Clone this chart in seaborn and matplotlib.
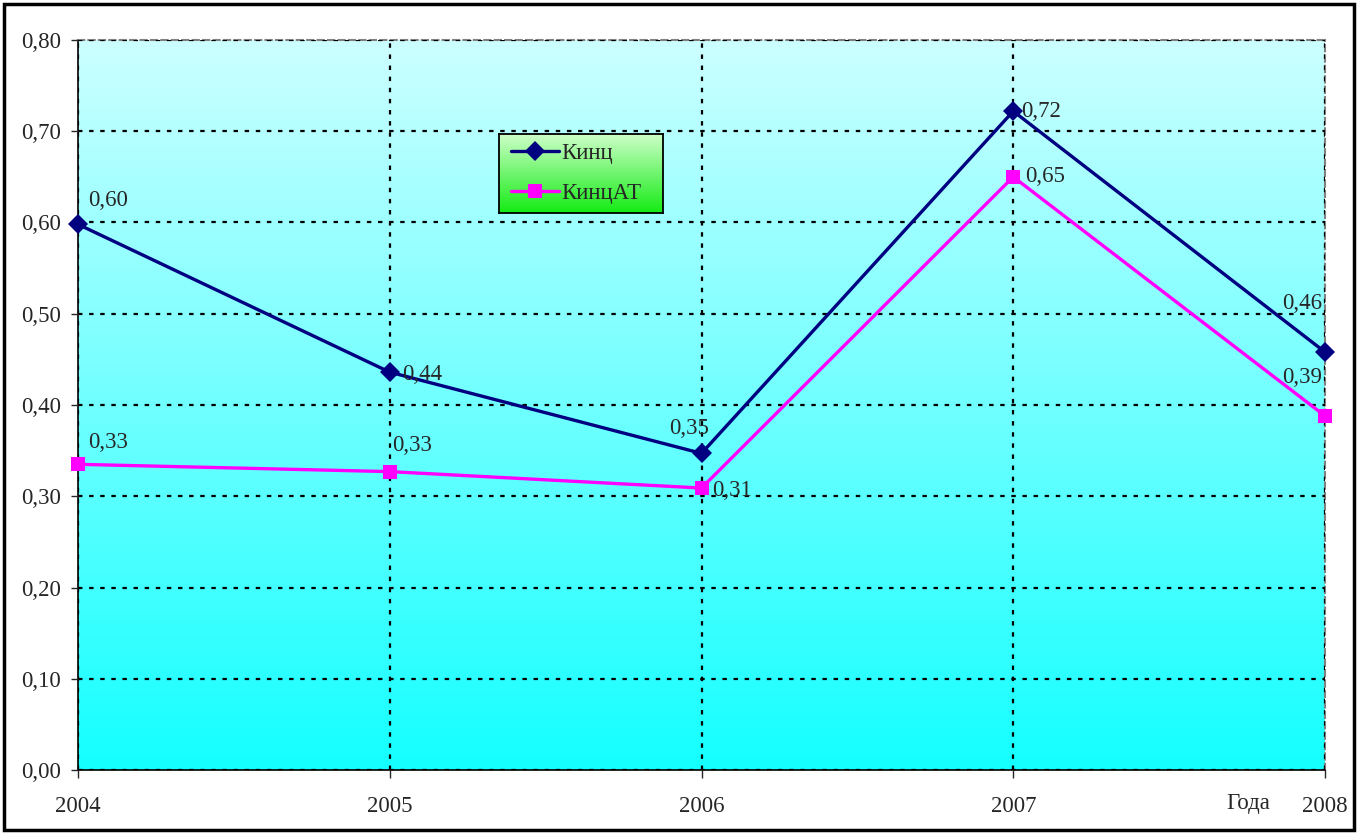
import numpy as np
import pandas as pd
import seaborn as sns
import matplotlib
import matplotlib.pyplot as plt
from matplotlib.ticker import FuncFormatter

years = [2004, 2005, 2006, 2007, 2008]
kinc = [0.598, 0.436, 0.347, 0.722, 0.458]
kinc_at = [0.335, 0.327, 0.309, 0.650, 0.388]
kinc_labels = ['0,60', '0,44', '0,35', '0,72', '0,46']
kinc_at_labels = ['0,33', '0,33', '0,31', '0,65', '0,39']
series_names = ['Кинц', 'КинцАТ']

df = pd.DataFrame({'year': years * 2,
                   'value': kinc + kinc_at,
                   'series': [series_names[0]] * 5 + [series_names[1]] * 5})

sns.set_style('white')
plt.rcParams['font.family'] = ['Liberation Serif', 'DejaVu Serif']
FS = 16.5

W, H = 1364, 834
fig = plt.figure(figsize=(W / 100, H / 100), dpi=100)
ax = fig.add_axes([78 / W, 1 - 770 / H, (1325 - 78) / W, (770 - 40) / H])

# background gradient of plot area
grad = np.linspace(0, 1, 256).reshape(-1, 1)
top = np.array([204, 255, 255]) / 255
bot = np.array([20, 255, 255]) / 255
img = top * (1 - grad[..., None]) + bot * grad[..., None]
ax.imshow(img, extent=[2004, 2008, 0, 0.8], aspect='auto', zorder=0)

sns.lineplot(data=df, x='year', y='value', hue='series', style='series',
             palette=['#000080', '#FF00FF'], markers=['D', 's'], dashes=False,
             linewidth=2.4, markersize=10.5, markeredgewidth=0, ax=ax, zorder=3,
             legend=False, clip_on=False)

ax.set_xlim(2004, 2008)
ax.set_ylim(0, 0.8)
ax.set_xticks(years)
ax.set_yticks(np.arange(0, 0.81, 0.1))
ax.yaxis.set_major_formatter(FuncFormatter(lambda v, p: f'{v:.2f}'.replace('.', ',')))
ax.set_xlabel('')
ax.set_ylabel('')
ax.tick_params(axis='y', direction='out', length=5, width=1, pad=7, labelsize=FS, left=True)
ax.tick_params(axis='x', direction='out', length=6, width=1, pad=13, labelsize=FS, bottom=True)
ax.grid(True, color='black', linestyle=(0, (2, 3)), linewidth=1.6, zorder=1)
ax.set_axisbelow(False)

for s in ['left', 'bottom']:
    ax.spines[s].set_color('black')
    ax.spines[s].set_linewidth(1.2)
for s in ['top', 'right']:
    ax.spines[s].set_color('gray')
    ax.spines[s].set_linestyle((0, (3, 2)))
    ax.spines[s].set_linewidth(1.5)

# data labels
kinc_off = [(10, 24), (12, -2), (-12, 25), (8, 0), (-23, 49)]
kinc_at_off = [(10, 22), (2, 26), (11, -2), (12, 0), (-23, 38)]
for i, y in enumerate(years):
    ax.annotate(kinc_labels[i], (y, kinc[i]), xytext=kinc_off[i], textcoords='offset pixels',
                ha='left' if kinc_off[i][0] > 0 else 'center', va='center', fontsize=FS, zorder=5)
    ax.annotate(kinc_at_labels[i], (y, kinc_at[i]), xytext=kinc_at_off[i], textcoords='offset pixels',
                ha='left' if kinc_at_off[i][0] > 0 else 'center', va='center', fontsize=FS, zorder=5)

ax.annotate('Года', (2008, 0), xytext=(-77, -33), textcoords='offset pixels',
            ha='center', va='center', fontsize=FS)

# legend box with green gradient background
lx0, ly0, lx1, ly1 = 499, 134, 663, 213
lax = fig.add_axes([lx0 / W, 1 - ly1 / H, (lx1 - lx0) / W, (ly1 - ly0) / H], zorder=2)
g_top = np.array([205, 255, 200]) / 255
g_bot = np.array([20, 235, 20]) / 255
lax.imshow(g_top * (1 - grad[..., None]) + g_bot * grad[..., None], aspect='auto')
lax.set_xticks([])
lax.set_yticks([])
for s in lax.spines.values():
    s.set_color('black')
    s.set_linewidth(1.3)

handles = [matplotlib.lines.Line2D([], [], color='#000080', marker='D', lw=2.4, ms=10.5, mew=0),
           matplotlib.lines.Line2D([], [], color='#FF00FF', marker='s', lw=2.4, ms=10.5, mew=0)]
leg = fig.legend(handles, series_names, loc='center left',
                 bbox_to_anchor=((lx0 + 12) / W, 1 - (ly0 + ly1) / 2 / H), bbox_transform=fig.transFigure,
                 fontsize=FS, frameon=False, handlelength=2.1,
                 labelspacing=0.8, handletextpad=0.1, borderaxespad=0, borderpad=0)
leg.set_zorder(10)

# outer frame
fig.patches.append(matplotlib.patches.Rectangle((4 / W, 4 / H), 1 - 14 / W, 1 - 8 / H,
                                                transform=fig.transFigure, fill=False,
                                                edgecolor='black', linewidth=2.5))

plt.savefig('out.png', dpi=100)
